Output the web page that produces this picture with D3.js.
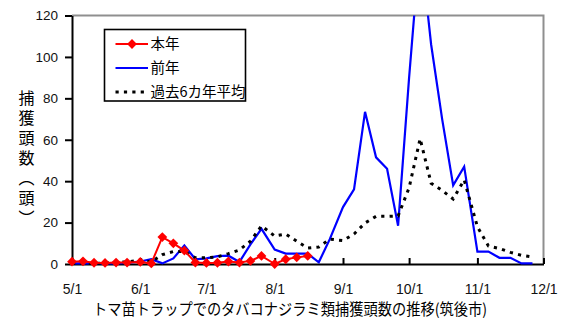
<!DOCTYPE html>
<html>
<head>
<meta charset="utf-8">
<script src="https://cdn.jsdelivr.net/npm/d3@7"></script>
<style>
  html, body { margin: 0; padding: 0; background: #fff; }
  svg { display: block; }
</style>
</head>
<body>
<svg id="chart" width="561" height="320"></svg>
<script>
// Month ticks along the x axis
const monthTickLabels = ["5/1", "6/1", "7/1", "8/1", "9/1", "10/1", "11/1", "12/1"];
// Survey periods: every five days (1, 6, 11, 16, 21, 26) from May to November
const periodMonths = [5, 6, 7, 8, 9, 10, 11];
const periodDays = [1, 6, 11, 16, 21, 26];

// Catch counts per trap (頭)
const thisYear = [1.1, 1.3, 0.6, 0.5, 0.7, 0.7,
                  1.0, 0.3, 13, 10, 6.5, 0.7,
                  0.5, 0.6, 1.2, 0.7, 1.5, 3.9,
                  0, 2.3, 3.2, 3.9];
const lastYear = [0.3, 0.3, 0.3, 0.3, 0.3, 0.5,
                  1.2, 2.3, 0.3, 2.7, 9, 2.3,
                  2.7, 3.8, 4, 1, 9.5, 17,
                  7, 5, 5, 5, 0.8, 12,
                  27.5, 36, 73.5, 51.5, 46, 18.5,
                  90, 155, 106, 70, 38, 47,
                  6, 6, 3, 3, 0.3, 0.3];
const avg6Years = [0.3, 0.3, 0.3, 0.5, 0.8, 1.0,
                   2.0, 1.0, 4.5, 6, 6, 3,
                   3, 3.5, 5, 6.8, 11, 18.4,
                   13.5, 14.5, 11, 7.7, 8.2, 12,
                   11.3, 14.5, 19.8, 23, 23, 23.2,
                   36.8, 60.5, 39, 35.5, 31.4, 40.6,
                   18, 8.7, 7.5, 5.6, 4.2, 3.4];

const yTickValues = [0, 20, 40, 60, 80, 100, 120];
const seriesNames = ["本年", "前年", "過去6カ年平均"];
const yTitle = "捕獲頭数（頭）";
const chartTitle = "トマ苗トラップでのタバコナジラミ類捕獲頭数の推移(筑後市)";

const YEAR = 2020;
const periodDates = periodMonths.flatMap(m => periodDays.map(d => new Date(YEAR, m - 1, d)));
const monthTickDates = monthTickLabels.map(s => {
  const [m, d] = s.split("/").map(Number);
  return new Date(YEAR, m - 1, d);
});

const svg = d3.select("#chart");
const plotLeft = 72, plotRight = 543.5, plotTop = 15.5, plotBottom = 264;

const x = d3.scaleTime()
  .domain([monthTickDates[0], monthTickDates[monthTickDates.length - 1]])
  .range([plotLeft, plotRight]);
const y = d3.scaleLinear().domain([0, 120]).range([plotBottom, plotTop]);

const latin = "'Liberation Sans', Arial, sans-serif";
const cjk = "'Noto Sans CJK JP', 'Noto Sans', sans-serif";

// Clip for lines running above the top of the plot
svg.append("defs").append("clipPath").attr("id", "plotClip")
  .append("rect").attr("x", 0).attr("y", plotTop).attr("width", 561).attr("height", 320 - plotTop);

// Frame: grey top and right edges
svg.append("path")
  .attr("d", `M${plotLeft},${plotTop}H${plotRight}V${plotBottom}`)
  .attr("fill", "none").attr("stroke", "#8f8f8f").attr("stroke-width", 2);

// Y axis
const yAxis = svg.append("g")
  .attr("transform", `translate(${plotLeft},0)`)
  .call(d3.axisLeft(y).tickValues(yTickValues).tickSize(7).tickSizeOuter(0).tickPadding(7));
yAxis.select(".domain").attr("stroke", "#000").attr("stroke-width", 2);
yAxis.selectAll(".tick line").attr("stroke", "#000").attr("stroke-width", 2);
yAxis.selectAll(".tick text").attr("font-family", latin).attr("font-size", 13.5).attr("fill", "#111");

// X axis (ticks point inward)
const xAxis = svg.append("g")
  .attr("transform", `translate(0,${plotBottom})`)
  .call(d3.axisBottom(x).tickValues(monthTickDates).tickSize(-6).tickSizeOuter(0)
    .tickPadding(20.5).tickFormat((d, i) => monthTickLabels[i]));
xAxis.select(".domain").attr("stroke", "#000").attr("stroke-width", 2);
xAxis.selectAll(".tick line").attr("stroke", "#000").attr("stroke-width", 2);
xAxis.selectAll(".tick text").attr("font-family", latin).attr("font-size", 14).attr("fill", "#111");

// Series lines
const line = d3.line().x(d => x(d.date)).y(d => y(d.value));
const toPoints = arr => arr.map((v, i) => ({ date: periodDates[i], value: v }));

svg.append("path")
  .datum(toPoints(lastYear))
  .attr("clip-path", "url(#plotClip)")
  .attr("d", line)
  .attr("fill", "none").attr("stroke", "#0000ff").attr("stroke-width", 2.2)
  .attr("stroke-linejoin", "miter");

svg.append("path")
  .datum(toPoints(avg6Years))
  .attr("d", line)
  .attr("fill", "none").attr("stroke", "#000").attr("stroke-width", 3)
  .attr("stroke-dasharray", "3.2,5.2");

const redPts = toPoints(thisYear);
svg.append("path")
  .datum(redPts)
  .attr("d", line)
  .attr("fill", "none").attr("stroke", "#ff0000").attr("stroke-width", 2);

const diamond = d3.symbol().type(d3.symbolSquare).size(48);
svg.append("g").selectAll("path")
  .data(redPts)
  .join("path")
  .attr("d", diamond)
  .attr("transform", d => `translate(${x(d.date)},${y(d.value)}) rotate(45)`)
  .attr("fill", "#ff0000");

// Legend
const lg = svg.append("g");
lg.append("rect")
  .attr("x", 104.5).attr("y", 29.5).attr("width", 141).attr("height", 71.5)
  .attr("fill", "#fff").attr("stroke", "#000").attr("stroke-width", 1.6);
const legendRows = [
  { name: seriesNames[0], color: "#ff0000", width: 2, dash: null, marker: true, cy: 44 },
  { name: seriesNames[1], color: "#0000ff", width: 2.2, dash: null, marker: false, cy: 68 },
  { name: seriesNames[2], color: "#000", width: 3, dash: "3.2,5.2", marker: false, cy: 92 }
];
legendRows.forEach(r => {
  lg.append("line")
    .attr("x1", 115.5).attr("x2", 148).attr("y1", r.cy).attr("y2", r.cy)
    .attr("stroke", r.color).attr("stroke-width", r.width)
    .attr("stroke-dasharray", r.dash);
  if (r.marker) {
    lg.append("path").attr("d", diamond)
      .attr("transform", `translate(132,${r.cy}) rotate(45)`)
      .attr("fill", r.color);
  }
  lg.append("text")
    .attr("x", 150.5).attr("y", r.cy).attr("dy", "0.36em")
    .attr("font-family", cjk).attr("font-size", 14.5).attr("fill", "#000")
    .text(r.name);
});

// Vertical y-axis title, set in vertical writing
svg.append("text")
  .attr("x", 26.5).attr("y", 89.5)
  .style("writing-mode", "vertical-rl")
  .style("letter-spacing", "4px")
  .attr("font-family", cjk).attr("font-size", 16).attr("fill", "#000")
  .text(yTitle);

// Chart title at bottom
svg.append("text")
  .attr("x", 93).attr("y", 315)
  .attr("font-family", cjk).attr("font-size", 15.5).attr("fill", "#000")
  .attr("textLength", 394).attr("lengthAdjust", "spacingAndGlyphs")
  .text(chartTitle);
</script>
</body>
</html>
